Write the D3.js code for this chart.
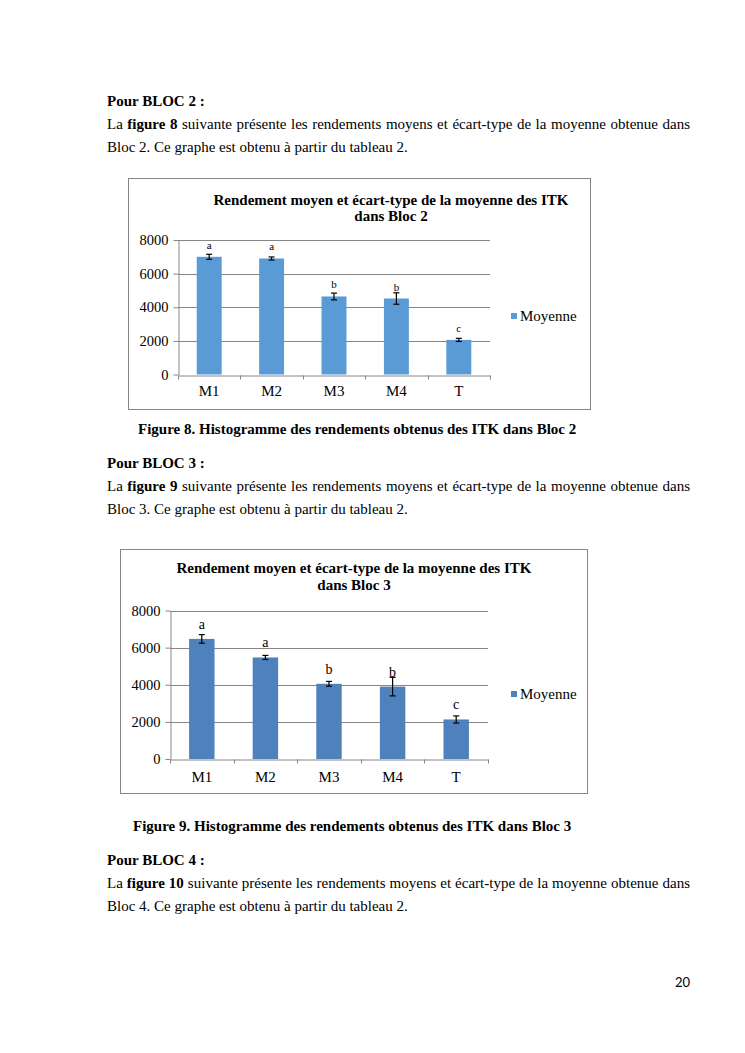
<!DOCTYPE html>
<html>
<head>
<meta charset="utf-8">
<script src="https://cdn.jsdelivr.net/npm/d3@7"></script>
<style>
    body { margin: 0; background: #fff; }
    svg text { font-family: "Liberation Serif", "Times New Roman", serif; fill: #000; }
</style>
</head>
<body>
<svg id="page" width="745" height="1053"></svg>
<script>
// Chart data
const categories = ['M1', 'M2', 'M3', 'M4', 'T'];
const bloc2Means = [7000, 6900, 4640, 4520, 2060];
const bloc2Errors = [150, 90, 200, 340, 90];
const bloc3Means = [6470, 5470, 4050, 3900, 2130];
const bloc3Errors = [230, 110, 130, 500, 190];
const groupLetters = ['a', 'a', 'b', 'b', 'c'];
const yTicks = [0, 2000, 4000, 6000, 8000];
const seriesName = 'Moyenne';

const svg = d3.select('#page');
const gridColor = '#868686';

// Body text of the page, one line at a time
function textLine(x, y, runs, justifyTo) {
    const t = svg.append('text')
        .attr('x', x)
        .attr('y', y)
        .style('font-size', '15px')
        .style('white-space', 'pre');
    runs.forEach(r => {
        t.append('tspan')
            .attr('font-weight', r[1] ? 'bold' : 'normal')
            .text(r[0]);
    });
    if (justifyTo) {
        const w = t.node().getComputedTextLength();
        const gaps = runs.map(r => r[0]).join('').split(' ').length - 1;
        t.style('word-spacing', ((justifyTo - w) / gaps) + 'px');
    }
    return t;
}

const lineWidth = 583;

textLine(107, 106, [['Pour BLOC 2 :', true]]);
textLine(107, 129, [['La ', false], ['figure 8', true], [' suivante présente les rendements moyens et écart-type de la moyenne obtenue dans', false]], lineWidth);
textLine(107, 152, [['Bloc 2. Ce graphe est obtenu à partir du tableau 2.', false]]);

textLine(138, 434, [['Figure 8. Histogramme des rendements obtenus des ITK dans Bloc 2', true]]);

textLine(107, 468, [['Pour BLOC 3 :', true]]);
textLine(107, 491, [['La ', false], ['figure 9', true], [' suivante présente les rendements moyens et écart-type de la moyenne obtenue dans', false]], lineWidth);
textLine(107, 514, [['Bloc 3. Ce graphe est obtenu à partir du tableau 2.', false]]);

textLine(133, 831, [['Figure 9. Histogramme des rendements obtenus des ITK dans Bloc 3', true]]);

textLine(107, 865, [['Pour BLOC 4 :', true]]);
textLine(107, 888, [['La ', false], ['figure 10', true], [' suivante présente les rendements moyens et écart-type de la moyenne obtenue dans', false]], lineWidth);
textLine(107, 911, [['Bloc 4. Ce graphe est obtenu à partir du tableau 2.', false]]);

svg.append('text')
    .attr('x', 690)
    .attr('y', 987)
    .attr('text-anchor', 'end')
    .style('font-family', 'Lato, "Open Sans", sans-serif')
    .style('font-size', '13px')
    .text('20');

// One Excel-style bar chart with error bars
function drawChart(o) {
    const g = svg.append('g');

    g.append('rect')
        .attr('x', o.frame[0] + 0.5)
        .attr('y', o.frame[1] + 0.5)
        .attr('width', o.frame[2])
        .attr('height', o.frame[3])
        .attr('fill', '#fff')
        .attr('stroke', gridColor);

    o.title.forEach((line, i) => {
        g.append('text')
            .attr('x', o.titleX)
            .attr('y', o.titleY + i * 16.8)
            .attr('text-anchor', 'middle')
            .style('font-size', '15px')
            .style('font-weight', 'bold')
            .text(line);
    });

    const x = d3.scaleBand()
        .domain(categories)
        .range([o.left, o.right])
        .paddingInner(0.6)
        .paddingOuter(0.3);

    const y = d3.scaleLinear()
        .domain([0, 8000])
        .range([o.bottom, o.top]);

    // gridlines
    g.selectAll('.grid')
        .data(yTicks.slice(1))
        .join('line')
        .attr('x1', o.left)
        .attr('x2', o.right)
        .attr('y1', d => Math.round(y(d)) + 0.5)
        .attr('y2', d => Math.round(y(d)) + 0.5)
        .attr('stroke', gridColor);

    // y axis
    const yAxis = g.append('g')
        .attr('transform', `translate(${Math.round(o.left) + 0.5},0)`)
        .call(d3.axisLeft(y).tickValues(yTicks).tickSize(5).tickSizeOuter(0).tickPadding(5).tickFormat(d3.format('d')));
    yAxis.select('.domain').attr('stroke', gridColor);
    yAxis.selectAll('.tick line').attr('stroke', gridColor);
    yAxis.selectAll('.tick text')
        .style('font-family', '"Liberation Serif", serif')
        .style('font-size', '14.5px');

    // x axis, tick marks on category boundaries
    const bounds = d3.range(categories.length + 1).map(i => o.left + i * (o.right - o.left) / categories.length);
    const xAxis = g.append('g')
        .attr('transform', `translate(0,${Math.round(o.bottom) + 0.5})`)
        .call(d3.axisBottom(x).tickSize(0).tickSizeOuter(0).tickPadding(o.xPad));
    xAxis.select('.domain').attr('stroke', gridColor);
    xAxis.selectAll('.tick text')
        .style('font-family', '"Liberation Serif", serif')
        .style('font-size', '15px');
    xAxis.selectAll('.bound')
        .data(bounds)
        .join('line')
        .attr('x1', d => Math.round(d) + 0.5)
        .attr('x2', d => Math.round(d) + 0.5)
        .attr('y1', 0)
        .attr('y2', 4)
        .attr('stroke', gridColor);

    // bars
    const data = categories.map((c, i) => ({ c, m: o.means[i], e: o.errors[i], l: groupLetters[i] }));

    g.selectAll('.bar')
        .data(data)
        .join('rect')
        .attr('x', d => x(d.c))
        .attr('y', d => y(d.m))
        .attr('width', x.bandwidth())
        .attr('height', d => y(0) - y(d.m))
        .attr('fill', o.color);

    // error bars
    const cx = d => x(d.c) + x.bandwidth() / 2;
    const eb = g.selectAll('.err').data(data).join('g');
    eb.append('line')
        .attr('x1', cx).attr('x2', cx)
        .attr('y1', d => y(d.m - d.e)).attr('y2', d => y(d.m + d.e))
        .attr('stroke', '#000').attr('stroke-width', 1.2);
    [-1, 1].forEach(s => {
        eb.append('line')
            .attr('x1', d => cx(d) - 3).attr('x2', d => cx(d) + 3)
            .attr('y1', d => y(d.m + s * d.e)).attr('y2', d => y(d.m + s * d.e))
            .attr('stroke', '#000').attr('stroke-width', 1.2);
    });

    // significance letters
    g.selectAll('.letter')
        .data(data)
        .join('text')
        .attr('x', cx)
        .attr('y', d => y(d.m) - o.letterOffset)
        .attr('text-anchor', 'middle')
        .style('font-size', o.letterSize + 'px')
        .text(d => d.l);

    // legend
    g.append('rect')
        .attr('x', o.legend[0])
        .attr('y', o.legend[1] - 3)
        .attr('width', 6)
        .attr('height', 6)
        .attr('fill', o.color);
    g.append('text')
        .attr('x', o.legend[0] + 9)
        .attr('y', o.legend[1] + 5)
        .style('font-size', '15px')
        .text(seriesName);
}

drawChart({
    frame: [128, 178, 462, 231],
    title: ['Rendement moyen et écart-type de la moyenne des ITK', 'dans Bloc 2'],
    titleX: 391, titleY: 204.5,
    left: 178, right: 490, top: 240, bottom: 374.5,
    xPad: 10,
    means: bloc2Means, errors: bloc2Errors,
    color: '#5B9BD5',
    letterOffset: 8, letterSize: 11,
    legend: [511, 316]
});

drawChart({
    frame: [120, 549, 467, 244],
    title: ['Rendement moyen et écart-type de la moyenne des ITK', 'dans Bloc 3'],
    titleX: 354, titleY: 573,
    left: 170, right: 488, top: 610.5, bottom: 759,
    xPad: 12,
    means: bloc3Means, errors: bloc3Errors,
    color: '#4F81BD',
    letterOffset: 10, letterSize: 14,
    legend: [511, 694]
});
</script>
</body>
</html>
